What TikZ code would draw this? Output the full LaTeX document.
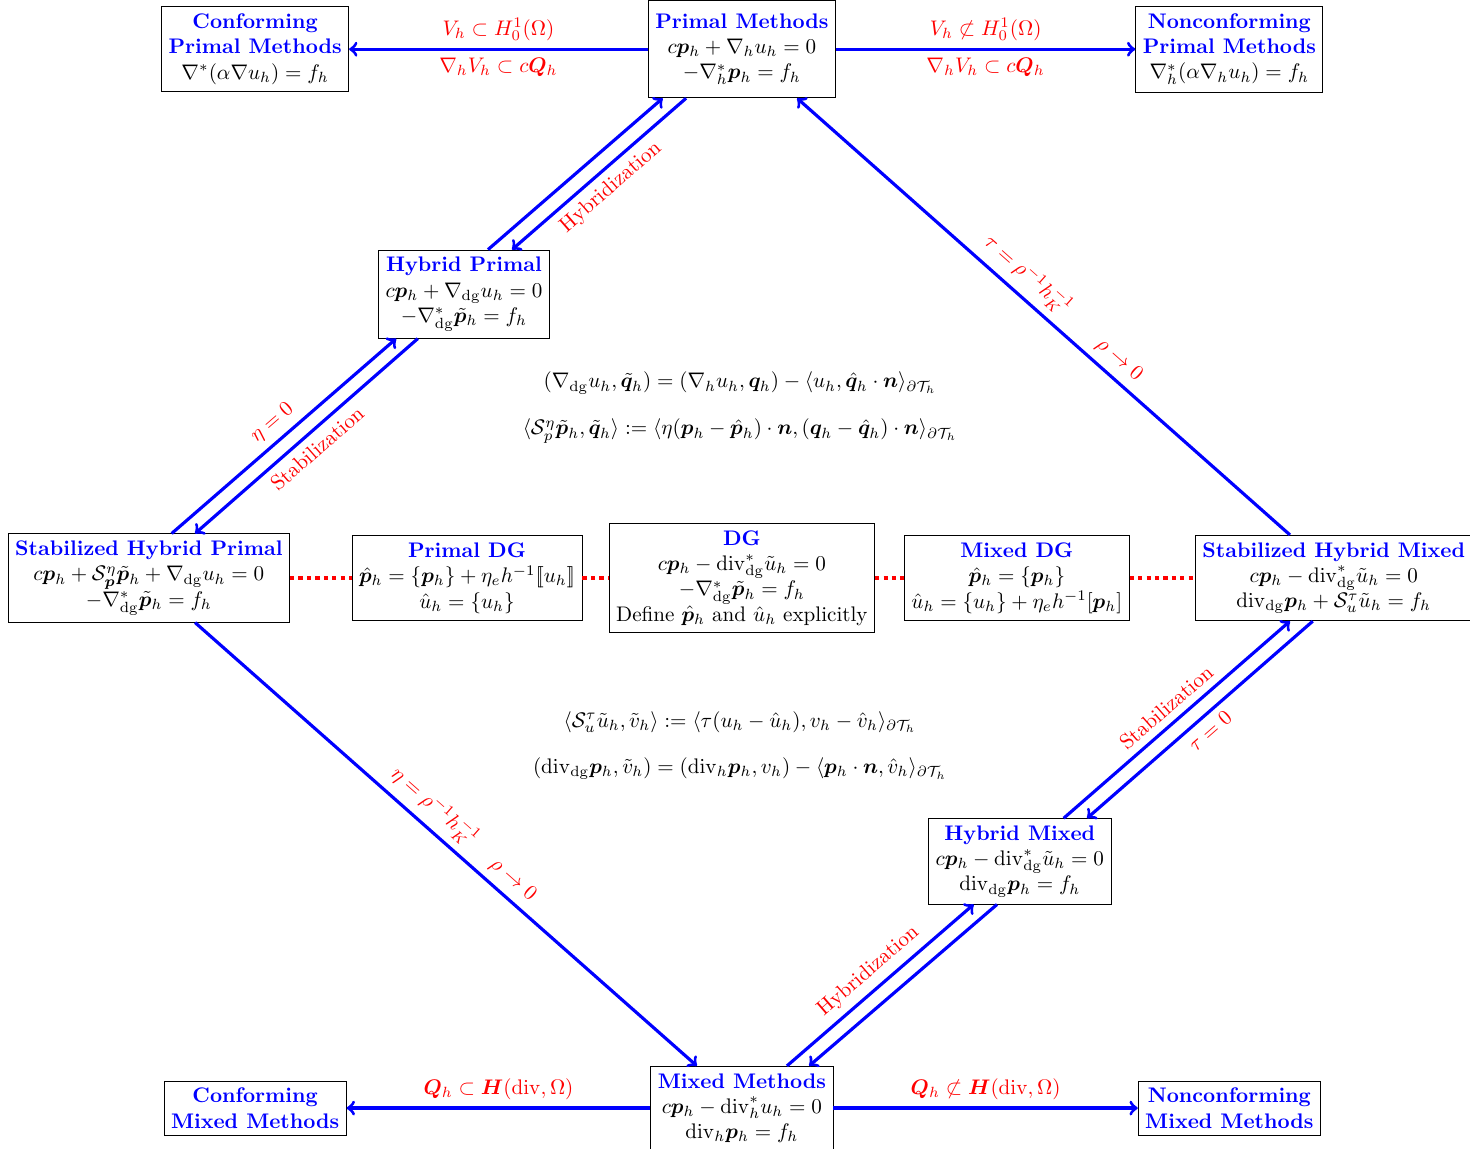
\documentclass[tikz,border=0pt]{standalone}
\usepackage{amsmath,amssymb,bm}
\newcommand{\boxtitle}[1]{\textcolor{blue}{\textbf{#1}}}

\begin{document}
\begin{tikzpicture}[
  box/.style={draw, align=center},
  link/.style={->, line width=1.5pt, blue},
  lab/.style={red, sloped},
  dots/.style={red, dotted, line width=2pt}]
  \useasboundingbox (0,0) rectangle (24.49,19.13);

  % top row
  \node[box, minimum height=1.62cm] (prim) at (12.36,18.31) {\boxtitle{Primal Methods}\\ $c\bm{p}_h + \nabla_h u_h = 0$\\ $-\nabla_h^*\bm{p}_h = f_h$};
  \node[box] (confprim) at (4.25,18.31) {\boxtitle{Conforming}\\ \boxtitle{Primal Methods}\\ $\nabla^*(\alpha\nabla u_h) = f_h$};
  \node[box] (noncprim) at (20.48,18.31) {\boxtitle{Nonconforming}\\ \boxtitle{Primal Methods}\\ $\nabla_h^*(\alpha\nabla_h u_h) = f_h$};

  \node[box] (hybprim) at (7.73,14.23) {\boxtitle{Hybrid Primal}\\ $c\bm{p}_h + \nabla_{\mathrm{dg}} u_h = 0$\\ $-\nabla_{\mathrm{dg}}^*\tilde{\bm{p}}_h = f_h$};

  % middle row
  \node[box] (stabprim) at (2.48,9.50) {\boxtitle{Stabilized Hybrid Primal}\\ $c\bm{p}_h + \mathcal{S}^\eta_{\bm{p}}\tilde{\bm{p}}_h + \nabla_{\mathrm{dg}} u_h = 0$\\ $-\nabla_{\mathrm{dg}}^*\tilde{\bm{p}}_h = f_h$};
  \node[box] (primdg) at (7.78,9.50) {\boxtitle{Primal DG}\\ $\hat{\bm{p}}_h = \{\bm{p}_h\} + \eta_e h^{-1}[\![u_h]\!]$\\ $\hat{u}_h = \{u_h\}$};
  \node[box] (dg) at (12.36,9.50) {\boxtitle{DG}\\ $c\bm{p}_h - \mathrm{div}_{\mathrm{dg}}^*\tilde{u}_h = 0$\\ $-\nabla_{\mathrm{dg}}^*\tilde{\bm{p}}_h = f_h$\\ Define $\hat{\bm{p}}_h$ and $\hat{u}_h$ explicitly};
  \node[box] (mixdg) at (16.94,9.50) {\boxtitle{Mixed DG}\\ $\hat{\bm{p}}_h = \{\bm{p}_h\}$\\ $\hat{u}_h = \{u_h\} + \eta_e h^{-1}[\bm{p}_h]$};
  \node[box] (stabmix) at (22.22,9.50) {\boxtitle{Stabilized Hybrid Mixed}\\ $c\bm{p}_h - \mathrm{div}_{\mathrm{dg}}^*\tilde{u}_h = 0$\\ $\mathrm{div}_{\mathrm{dg}}\bm{p}_h + \mathcal{S}^\tau_u\tilde{u}_h = f_h$};

  \node[box] (hybmix) at (16.99,4.78) {\boxtitle{Hybrid Mixed}\\ $c\bm{p}_h - \mathrm{div}_{\mathrm{dg}}^*\tilde{u}_h = 0$\\ $\mathrm{div}_{\mathrm{dg}}\bm{p}_h = f_h$};

  % bottom row
  \node[box] (mixed) at (12.36,0.67) {\boxtitle{Mixed Methods}\\ $c\bm{p}_h - \mathrm{div}_h^* u_h = 0$\\ $\mathrm{div}_h\bm{p}_h = f_h$};
  \node[box] (confmix) at (4.25,0.67) {\boxtitle{Conforming}\\ \boxtitle{Mixed Methods}};
  \node[box] (noncmix) at (20.48,0.67) {\boxtitle{Nonconforming}\\ \boxtitle{Mixed Methods}};

  % identities
  \node (eqa) at (12.33,12.75) {$(\nabla_{\mathrm{dg}} u_h, \tilde{\bm{q}}_h) = (\nabla_h u_h, \bm{q}_h) - \langle u_h, \hat{\bm{q}}_h\cdot\bm{n}\rangle_{\partial\mathcal{T}_h}$};
  \node (eqb) at (12.33,11.95) {$\langle\mathcal{S}^\eta_p\tilde{\bm{p}}_h, \tilde{\bm{q}}_h\rangle := \langle\eta(\bm{p}_h - \hat{\bm{p}}_h)\cdot\bm{n}, (\bm{q}_h - \hat{\bm{q}}_h)\cdot\bm{n}\rangle_{\partial\mathcal{T}_h}$};
  \node (eqc) at (12.33,7.10) {$\langle\mathcal{S}^\tau_u\tilde{u}_h, \tilde{v}_h\rangle := \langle\tau(u_h - \hat{u}_h), v_h - \hat{v}_h\rangle_{\partial\mathcal{T}_h}$};
  \node (eqd) at (12.33,6.32) {$(\mathrm{div}_{\mathrm{dg}}\bm{p}_h, \tilde{v}_h) = (\mathrm{div}_h\bm{p}_h, v_h) - \langle\bm{p}_h\cdot\bm{n}, \hat{v}_h\rangle_{\partial\mathcal{T}_h}$};

  % conforming / nonconforming
  \draw[link] (prim.west) -- (confprim.east)
    node[midway, above, red] {$V_h \subset H^1_0(\Omega)$}
    node[midway, below, red] {$\nabla_h V_h \subset c\bm{Q}_h$};
  \draw[link] (prim.east) -- (noncprim.west)
    node[midway, above, red] {$V_h \not\subset H^1_0(\Omega)$}
    node[midway, below, red] {$\nabla_h V_h \subset c\bm{Q}_h$};
  \draw[link] (mixed.west) -- (confmix.east)
    node[midway, above, red] {$\bm{Q}_h \subset \bm{H}(\mathrm{div},\Omega)$};
  \draw[link] (mixed.east) -- (noncmix.west)
    node[midway, above, red] {$\bm{Q}_h \not\subset \bm{H}(\mathrm{div},\Omega)$};

  % hybridization and stabilization
  \draw[link] ([xshift=0.40cm]hybprim.north) -- ([xshift=-1.32cm]prim.south);
  \draw[link] ([xshift=-0.93cm]prim.south) -- ([xshift=0.80cm]hybprim.north)
    node[midway, below, lab] {Hybridization};
  \draw[link] ([xshift=0.38cm]stabprim.north) -- ([xshift=-1.13cm]hybprim.south)
    node[midway, above, lab] {$\eta = 0$};
  \draw[link] ([xshift=-0.77cm]hybprim.south) -- ([xshift=0.77cm]stabprim.north)
    node[midway, below, lab] {Stabilization};
  \draw[link] ([xshift=0.77cm]stabprim.south) -- ([xshift=-0.75cm]mixed.north)
    node[pos=0.45, above, lab] {$\eta = \rho^{-1}h_K^{-1}$}
    node[pos=0.61, above, lab] {$\rho \to 0$};
  \draw[link] ([xshift=-0.73cm]stabmix.north) -- ([xshift=0.92cm]prim.south)
    node[pos=0.37, above, lab] {$\rho \to 0$}
    node[pos=0.56, above, lab] {$\tau = \rho^{-1}h_K^{-1}$};
  \draw[link] ([xshift=0.73cm]hybmix.north) -- ([xshift=-0.73cm]stabmix.south)
    node[midway, above, lab] {Stabilization};
  \draw[link] ([xshift=-0.35cm]stabmix.south) -- ([xshift=1.12cm]hybmix.north)
    node[midway, below, lab] {$\tau = 0$};
  \draw[link] ([xshift=0.75cm]mixed.north) -- ([xshift=-0.77cm]hybmix.south)
    node[midway, above, lab] {Hybridization};
  \draw[link] ([xshift=-0.38cm]hybmix.south) -- ([xshift=1.12cm]mixed.north);

  % DG family
  \draw[dots] (stabprim) -- (primdg);
  \draw[dots] (primdg) -- (dg);
  \draw[dots] (dg) -- (mixdg);
  \draw[dots] (mixdg) -- (stabmix);
\end{tikzpicture}
\end{document}
